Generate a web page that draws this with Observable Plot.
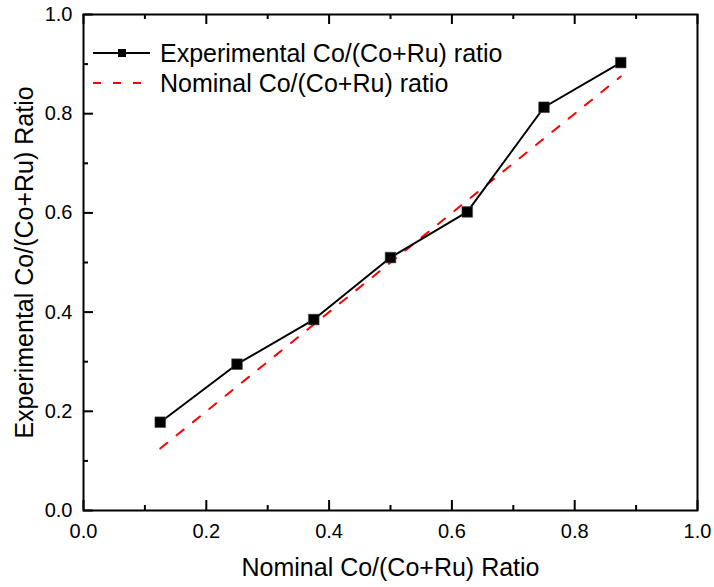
<!DOCTYPE html>
<html>
<head>
<meta charset="utf-8">
<script src="https://cdn.jsdelivr.net/npm/d3@7"></script>
<script src="https://cdn.jsdelivr.net/npm/@observablehq/plot@0.6"></script>
<style>
  html, body { margin: 0; padding: 0; background: #fff; }
  #wrap { position: relative; width: 714px; height: 587px; font-family: "Liberation Sans", Arial, sans-serif; }
  #legend { position: absolute; left: 93px; top: 38px; font-size: 25px; color: #000; }
  .row { display: flex; align-items: center; height: 30px; white-space: nowrap; }
  .row svg { margin-right: 10px; flex: none; }
</style>
</head>
<body>
<div id="wrap"><div id="legend"></div></div>
<script>
// ---- data ----
const nominalRatio = [0.125, 0.25, 0.375, 0.5, 0.625, 0.75, 0.875];
const experimentalRatio = [0.178, 0.295, 0.385, 0.51, 0.602, 0.813, 0.903];
const nominalLine = [0.125, 0.25, 0.375, 0.5, 0.625, 0.75, 0.875];
const seriesNames = ["Experimental Co/(Co+Ru) ratio", "Nominal Co/(Co+Ru) ratio"];
const xTitle = "Nominal Co/(Co+Ru) Ratio";
const yTitle = "Experimental Co/(Co+Ru) Ratio";
const majorTicks = [0, 0.2, 0.4, 0.6, 0.8, 1.0];
const minorTicks = [0.1, 0.3, 0.5, 0.7, 0.9];

const expData = nominalRatio.map((x, i) => ({x, y: experimentalRatio[i]}));
const nomData = nominalRatio.map((x, i) => ({x, y: nominalLine[i]}));

const W = 714, H = 587, mL = 83, mR = 17, mT = 14, mB = 77;
const fw = W - mL - mR, fh = H - mT - mB;
const fmt = d3.format(".1f");

const chart = Plot.plot({
  width: W, height: H,
  marginLeft: mL, marginRight: mR, marginTop: mT, marginBottom: mB,
  style: {fontFamily: "'Liberation Sans', Arial, sans-serif", background: "#fff", color: "#000"},
  x: {domain: [0, 1]},
  y: {domain: [0, 1]},
  marks: [
    // tick labels
    Plot.axisX(majorTicks, {anchor: "bottom", tickSize: 0, tickPadding: 13, tickFormat: fmt, fontSize: 20, label: null}),
    Plot.axisY(majorTicks, {anchor: "left", tickSize: 0, tickPadding: 11, tickFormat: fmt, fontSize: 20, label: null}),
    // axis titles
    Plot.axisX([], {anchor: "bottom", label: xTitle, labelAnchor: "center", labelArrow: "none", labelOffset: 65, fontSize: 25, tickSize: 0}),
    Plot.axisY([], {anchor: "left", label: yTitle, labelAnchor: "center", labelArrow: "none", labelOffset: 68, fontSize: 25, tickSize: 0}),
    // inward ticks: bottom, top, left
    Plot.tickX(majorTicks, {x: d => d, insetTop: fh - 10, strokeWidth: 2}),
    Plot.tickX(minorTicks, {x: d => d, insetTop: fh - 5, strokeWidth: 2}),
    Plot.tickX(majorTicks, {x: d => d, insetBottom: fh - 10, strokeWidth: 2}),
    Plot.tickX(minorTicks, {x: d => d, insetBottom: fh - 5, strokeWidth: 2}),
    Plot.tickY(majorTicks, {y: d => d, insetRight: fw - 10, strokeWidth: 2}),
    Plot.tickY(minorTicks, {y: d => d, insetRight: fw - 5, strokeWidth: 2}),
    // nominal dashed line
    Plot.line(nomData, {x: "x", y: "y", stroke: "#ff0000", strokeWidth: 2, strokeDasharray: "9,12"}),
    // experimental
    Plot.line(expData, {x: "x", y: "y", stroke: "#000", strokeWidth: 2}),
    Plot.dot(expData, {x: "x", y: "y", symbol: "square", r: 6, fill: "#000", stroke: "#444", strokeWidth: 0.6}),
    Plot.frame({stroke: "#000", strokeWidth: 2})
  ]
});
document.getElementById("wrap").prepend(chart);

// legend
const legend = document.getElementById("legend");
const sw = [
  `<svg width="57" height="20"><line x1="0" y1="10" x2="57" y2="10" stroke="#000" stroke-width="2"/><rect x="25" y="6" width="8" height="8" fill="#000"/></svg>`,
  `<svg width="57" height="20"><line x1="0" y1="10" x2="57" y2="10" stroke="#ff0000" stroke-width="2" stroke-dasharray="8,12"/></svg>`
];
seriesNames.forEach((name, i) => {
  const row = document.createElement("div");
  row.className = "row";
  row.innerHTML = sw[i] + `<span>${name}</span>`;
  legend.appendChild(row);
});
</script>
</body>
</html>
